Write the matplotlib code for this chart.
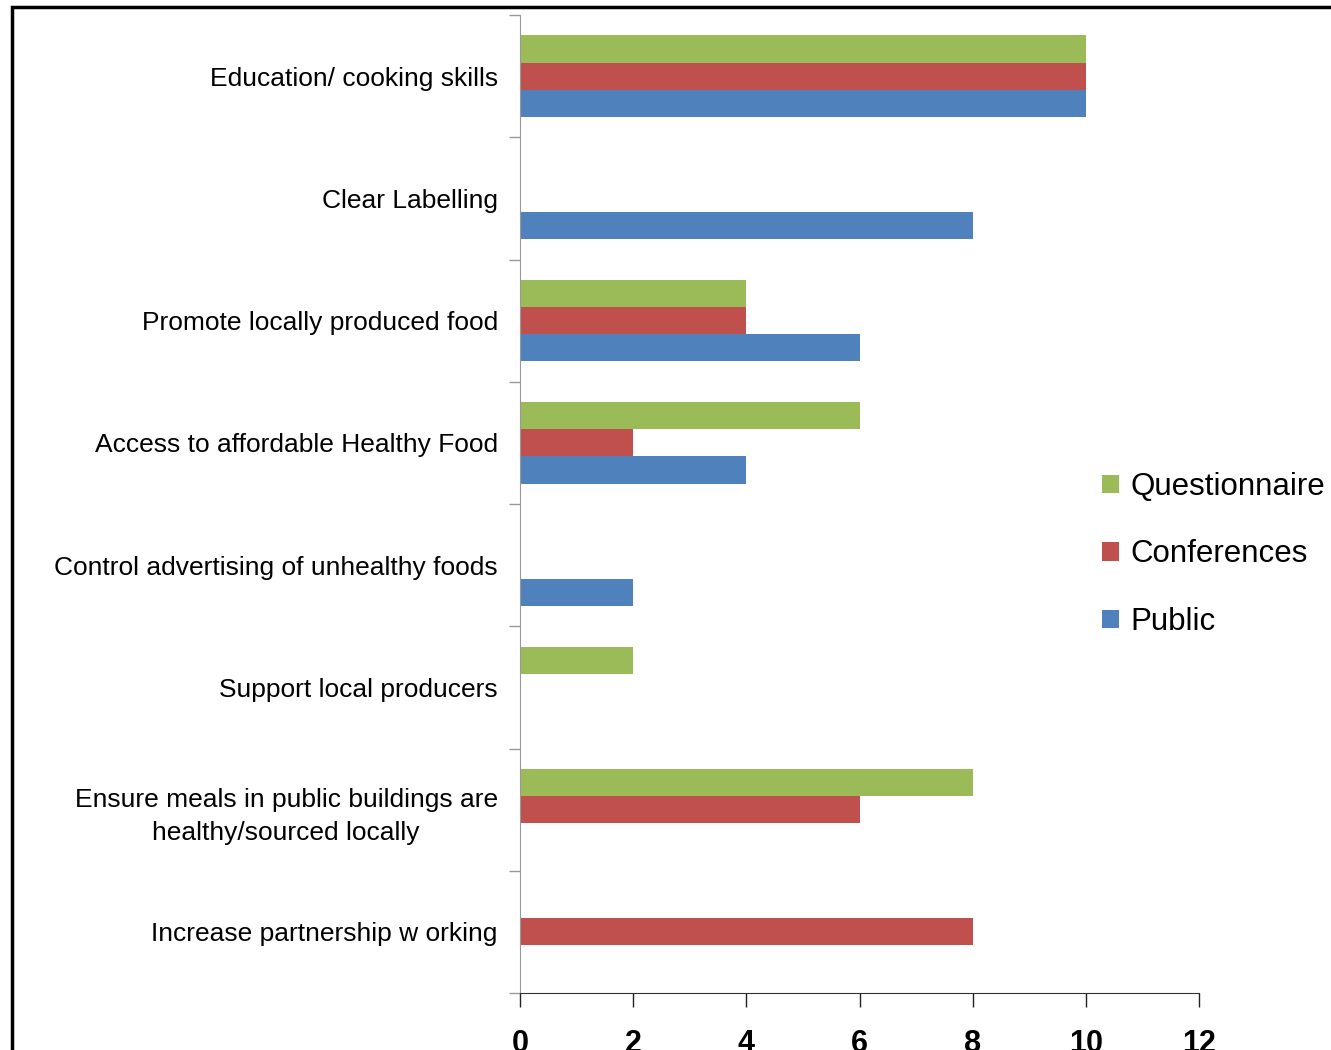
import numpy as np
import matplotlib.pyplot as plt
from matplotlib.patches import Rectangle

categories = [
    'Education/ cooking skills',
    'Clear Labelling',
    'Promote locally produced food',
    'Access to affordable Healthy Food',
    'Control advertising of unhealthy foods',
    'Support local producers',
    'Ensure meals in public buildings are\nhealthy/sourced locally',
    'Increase partnership w orking',
]
questionnaire = [10, 0, 4, 6, 0, 2, 8, 0]
conferences = [10, 0, 4, 2, 0, 0, 6, 8]
public = [10, 8, 6, 4, 2, 0, 0, 0]
series_names = ['Questionnaire', 'Conferences', 'Public']
colors = ['#9BBB59', '#C0504D', '#4F81BD']

plt.rcParams['font.family'] = ['Liberation Sans', 'DejaVu Sans']

fig = plt.figure(figsize=(13.31, 10.5), dpi=100)
ax = fig.add_axes([520 / 1331, 1 - 993 / 1050, 679 / 1331, 978 / 1050])

y = np.arange(len(categories)) + 0.5
h = 0.222
for i, (vals, name, c) in enumerate(zip([questionnaire, conferences, public], series_names, colors)):
    ax.barh(y + (i - 1) * h, vals, height=h, color=c, label=name, linewidth=0)

ax.set_xlim(0, 12)
ax.set_ylim(len(categories), 0)
ax.set_xticks(range(0, 13, 2))
ax.set_xticklabels([str(v) for v in range(0, 13, 2)], fontsize=22, fontweight='bold')
ax.tick_params(axis='x', direction='out', length=10, width=1, color='#222222', pad=16)

ax.set_yticks(y)
ax.set_yticklabels(categories, fontsize=19, linespacing=1.45, multialignment='center')
ax.tick_params(axis='y', length=0, pad=16)
ax.set_yticks(np.arange(len(categories) + 1), minor=True)
ax.tick_params(axis='y', which='minor', length=8, width=1, color='#999999')

for s in ['top', 'right']:
    ax.spines[s].set_visible(False)
ax.spines['left'].set_color('#999999')
ax.spines['bottom'].set_color('#333333')

leg = fig.legend(loc='upper left', bbox_to_anchor=(1102 / 1331, 1 - 472 / 1050),
                 frameon=False, fontsize=22.5, handlelength=0.55, handleheight=0.55,
                 handletextpad=0.35, labelspacing=1.2, borderaxespad=0, borderpad=0)

fig.patches.append(Rectangle((12 / 1331, -0.1), 1.2, 1 - 7 / 1050 + 0.1,
                             transform=fig.transFigure, fill=False,
                             edgecolor='black', linewidth=2.5))

fig.savefig('out.png', dpi=100)
